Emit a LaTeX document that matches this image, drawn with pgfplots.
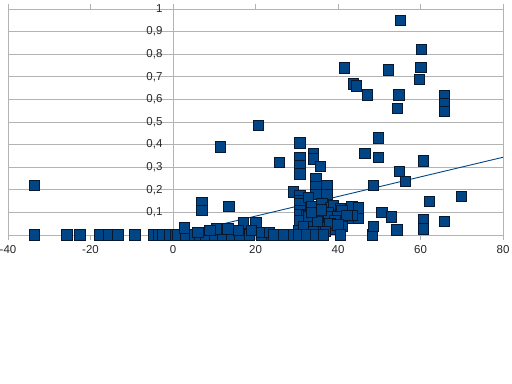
\documentclass[border=0pt]{standalone}
\usepackage{pgfplots}
\pgfplotsset{compat=1.18}
\usepackage{fontspec}
\setmainfont{Liberation Sans}
\definecolor{ser}{RGB}{0,69,134}
\definecolor{edge}{RGB}{8,24,48}
\definecolor{gridc}{RGB}{179,179,179}
\begin{document}
\begin{tikzpicture}
\useasboundingbox (0bp,0bp) rectangle (512bp,384bp);
\begin{axis}[
  at={(8bp,149bp)}, anchor=south west,
  scale only axis, width=495bp, height=226bp,
  xmin=-40, xmax=80, ymin=0, ymax=1,
  xtick={-40,-20,0,20,40,60,80},
  ytick={0.1,0.2,0.3,0.4,0.5,0.6,0.7,0.8,0.9,1},
  extra x ticks={0}, extra x tick labels={},
  extra x tick style={xmajorgrids=true, major tick length=0pt},
  ymajorgrids,
  major grid style={gridc, line width=0.8bp},
  axis line style={gridc, line width=0.8bp},
  tick align=outside,
  xtick style={gridc, line width=0.8bp},
  major tick length=5bp,
  ytick style={draw=none},
  /pgf/number format/.cd, use comma, assume math mode=true,
  /pgfplots/.cd,
  yticklabel={\pgfmathprintnumber[fixed,precision=1,use comma]{\tick}},
  tick label style={font=\fontsize{11.5bp}{13bp}\selectfont, text=black!85},
  yticklabel style={xshift=163bp},
  xticklabel style={yshift=-2bp},
  clip=false,
]
\addplot[only marks, mark=square*, mark size=5.2bp,
  mark options={fill=ser, draw=edge, line width=0.9bp}] table {
x y
-33.6 0
-33.6 0.22
-25.7 0
-22.6 0
-17.7 0
-15.5 0
-13.3 0
-9.2 0
-4.8 0
-3.6 0
-2.4 0
-0.9 0
0.7 0
1.1 0
3.0 0
5.2 0
6.5 0
8.0 0
10.1 0
12.1 0
14.1 0
16.2 0
18.6 0
21.5 0
23.9 0
26.3 0
2.8 0.032
7.0 0.145
7.0 0.108
13.6 0.127
11.5 0.39
17.1 0.054
20.1 0.054
15.8 0.02
10.5 0.027
13.3 0.027
21.5 0.01
23.4 0.01
9.0 0.02
19.0 0.02
6.0 0.01
20.7 0.485
25.8 0.32
30.8 0.408
30.8 0.342
30.8 0.307
30.8 0.27
34.1 0.362
34.1 0.337
35.7 0.303
34.7 0.249
34.7 0.212
34.7 0.18
37.3 0.219
37.3 0.18
29.2 0.19
30.8 0.175
30.8 0.15
30.8 0.138
30.8 0.108
30.8 0.09
32.8 0.167
33.7 0.126
36.1 0.138
38.1 0.12
38.9 0.13
43.4 0.127
45.0 0.12
40.6 0.116
41.0 0.108
41.4 0.079
43.4 0.072
45.0 0.072
43.4 0.086
35.7 0.086
37.7 0.1
32.4 0.086
30.8 0.064
32.8 0.057
34.1 0.038
36.5 0.038
38.9 0.032
41.0 0.038
30.4 0.02
31.6 0.038
37.7 0.079
39.8 0.079
42.2 0.086
39.3 0.064
39.3 0.027
32.8 0.082
35.0 0.06
33.5 0.1
36.0 0.11
38.0 0.05
40.0 0.045
34.0 0.015
37.0 0.015
24.3 0
26.8 0
29.2 0
30.4 0
32.4 0
34.5 0
36.5 0
40.6 0
48.3 0
41.5 0.74
43.8 0.669
44.4 0.659
47.1 0.62
52.2 0.73
55.2 0.949
54.8 0.62
54.4 0.561
60.2 0.82
60.1 0.742
59.8 0.688
65.8 0.617
65.8 0.58
65.8 0.548
46.5 0.36
49.8 0.43
49.8 0.342
48.6 0.22
54.9 0.28
56.4 0.237
60.7 0.328
62.2 0.149
69.9 0.17
50.7 0.1
53.0 0.079
48.6 0.038
54.3 0.023
60.7 0.068
60.7 0.027
65.8 0.06
};
\addplot[ser, line width=0.9bp] coordinates {(0.8,0) (80,0.344)};
\end{axis}
\end{tikzpicture}
\end{document}
